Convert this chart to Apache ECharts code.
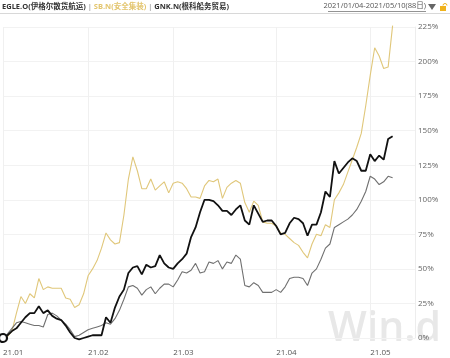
<!DOCTYPE html>
<html><head><meta charset="utf-8">
<script src="https://cdn.jsdelivr.net/npm/echarts@6/dist/echarts.min.js"></script>
<style>html,body{margin:0;padding:0;background:#fff}#c{width:450px;height:358px}</style>
</head><body><div id="c"></div>
<script>
var dates = [
'2021-01-04','2021-01-05','2021-01-06','2021-01-07','2021-01-08','2021-01-11','2021-01-12','2021-01-13','2021-01-14','2021-01-15','2021-01-19','2021-01-20','2021-01-21','2021-01-22','2021-01-25','2021-01-26','2021-01-27','2021-01-28','2021-01-29',
'2021-02-01','2021-02-02','2021-02-03','2021-02-04','2021-02-05','2021-02-08','2021-02-09','2021-02-10','2021-02-11','2021-02-12','2021-02-16','2021-02-17','2021-02-18','2021-02-19','2021-02-22','2021-02-23','2021-02-24','2021-02-25','2021-02-26',
'2021-03-01','2021-03-02','2021-03-03','2021-03-04','2021-03-05','2021-03-08','2021-03-09','2021-03-10','2021-03-11','2021-03-12','2021-03-15','2021-03-16','2021-03-17','2021-03-18','2021-03-19','2021-03-22','2021-03-23','2021-03-24','2021-03-25','2021-03-26','2021-03-29','2021-03-30','2021-03-31',
'2021-04-01','2021-04-05','2021-04-06','2021-04-07','2021-04-08','2021-04-09','2021-04-12','2021-04-13','2021-04-14','2021-04-15','2021-04-16','2021-04-19','2021-04-20','2021-04-21','2021-04-22','2021-04-23','2021-04-26','2021-04-27','2021-04-28','2021-04-29','2021-04-30',
'2021-05-03','2021-05-04','2021-05-05','2021-05-06','2021-05-07','2021-05-10'
];
// empty trailing slots on the axis (axis runs a little past the last day)
var padSlots = ['', '', '', '', ''];

var egle = [0,2,5,7,11,15,18,18,23,18,20,16,14,13,9,4,0,-1,0,
1,2,2,2,15,11,22,30,35,47,51,52,46,53,51,52,60,54,51,
50,54,57,61,73,80,91,100,100,99,96,92,92,89,93,96,85,82,96,90,84,85,85,
81,75,76,83,87,86,83,74,82,82,91,106,102,128,119,123,127,130,128,121,121,
133,128,132,129,144,146];

var sb = [0,1,5,18,30,25,32,29,43,35,37,36,36,36,29,28,22,24,32,
45,50,56,65,76,71,68,69,89,115,131,121,108,108,115,107,110,113,105,
112,113,112,108,102,102,101,110,114,113,115,101,109,112,114,112,98,91,99,96,84,83,83,
81,76,75,72,69,67,62,58,68,75,74,82,80,100,105,111,120,129,138,148,168,
190,210,204,195,196,226];

var gnk = [0,3,7,11,12,11,10,9,9,8,17,18,16,13,10,6,1,2,4,
6,7,8,9,11,10,14,20,28,37,38,36,31,35,37,32,36,39,39,
37,42,48,47,49,54,47,48,55,54,56,50,55,54,60,57,38,37,40,38,33,33,33,
35,33,37,43,44,44,43,38,47,50,57,65,68,80,82,84,86,89,93,99,106,
117,115,111,113,117,116];

var yTicks = [0,25,50,75,100,125,150,175,200,225];
var names = ['EGLE.O(伊格尔散货航运)', 'SB.N(安全集装)', 'GNK.N(根科船务贸易)'];
var rangeText = '2021/01/04-2021/05/10(88日)';

var cats = dates.concat(padSlots);
var monthStart = {};
dates.forEach(function(d, i){
  if (i === 0 || d.slice(0,7) !== dates[i-1].slice(0,7)) monthStart[i] = true;
});
function isMonthStart(i){ return !!monthStart[i]; }

var chart = echarts.init(document.getElementById('c'), null, {renderer:'canvas'});
var font = '"Open Sans", "Noto Sans CJK SC", sans-serif';
var hs = 7.5;
chart.setOption({
  animation:false,
  textStyle:{fontFamily:font},
  title:{
    left:2, top:3, padding:0,
    text:'{a|'+names[0]+'}{s| | }{b|'+names[1]+'}{s| | }{c|'+names[2]+'}',
    textStyle:{rich:{
      a:{fontSize:hs,color:'#333',fontFamily:font},
      b:{fontSize:hs,color:'#e3c56d',fontFamily:font},
      c:{fontSize:hs,color:'#333',fontFamily:font},
      s:{fontSize:hs,color:'#aaa',fontFamily:font}
    }}
  },
  graphic:[
    {type:'line', z:1, shape:{x1:0,y1:13.5,x2:450,y2:13.5}, style:{stroke:'#d8d8d8',lineWidth:1}},
    {type:'text', right:24, top:2, style:{text:rangeText, fontSize:hs, fill:'#555', fontFamily:font}},
    {type:'line', shape:{x1:328,y1:11.5,x2:426,y2:11.5}, style:{stroke:'#777',lineWidth:0.8}},
    {type:'polygon', shape:{points:[[428,4],[436,4],[432,10]]}, style:{fill:'#666'}},
    {type:'rect', shape:{x:440,y:6,width:6,height:5}, style:{fill:'#f0b31c'}},
    {type:'arc', shape:{cx:445,cy:5.5,r:2,startAngle:Math.PI,endAngle:2*Math.PI}, style:{stroke:'#f0b31c',lineWidth:1,fill:null}},
    {type:'text', z:0, left:328, top:309, style:{text:'Win.d', fontSize:41, fontWeight:600, fill:'#e8e8e8', fontFamily:'"Open Sans", sans-serif'}}
  ],
  grid:{left:2, right:35, top:27, bottom:20},
  xAxis:{
    type:'category', data:cats, boundaryGap:false,
    axisLine:{show:false}, axisTick:{show:false},
    axisLabel:{
      interval:function(i){return isMonthStart(i);},
      formatter:function(v){return v ? v.slice(2,4)+'.'+v.slice(5,7) : '';},
      align:'left', color:'#555', fontSize:8, margin:11
    },
    splitLine:{show:true, interval:function(i){return isMonthStart(i);}, lineStyle:{color:'#f0f0f0',width:1}}
  },
  yAxis:{
    type:'value', position:'right', min:yTicks[0], max:yTicks[yTicks.length-1], interval:25,
    axisLine:{show:true, lineStyle:{color:'#ededed'}}, axisTick:{show:false},
    axisLabel:{formatter:'{value}%', color:'#666', fontSize:8, margin:3, align:'left'},
    splitLine:{lineStyle:{color:'#f2f2f2'}}
  },
  series:[
    {name:names[1], type:'line', data:sb, showSymbol:false, clip:false, z:2,
     lineStyle:{color:'#e0c77a', width:1.1}},
    {name:names[2], type:'line', data:gnk, showSymbol:false, clip:false, z:3,
     lineStyle:{color:'#707070', width:1.1}},
    {name:names[0], type:'line', data:egle.map(function(v,i){
        return i===0 ? {value:v, symbol:'circle', symbolSize:8, itemStyle:{color:'#fff', borderColor:'#111', borderWidth:2.2}} : v;
      }), showSymbol:true, symbol:'none', clip:false, z:4,
     lineStyle:{color:'#111', width:1.8}}
  ]
});
</script></body></html>
